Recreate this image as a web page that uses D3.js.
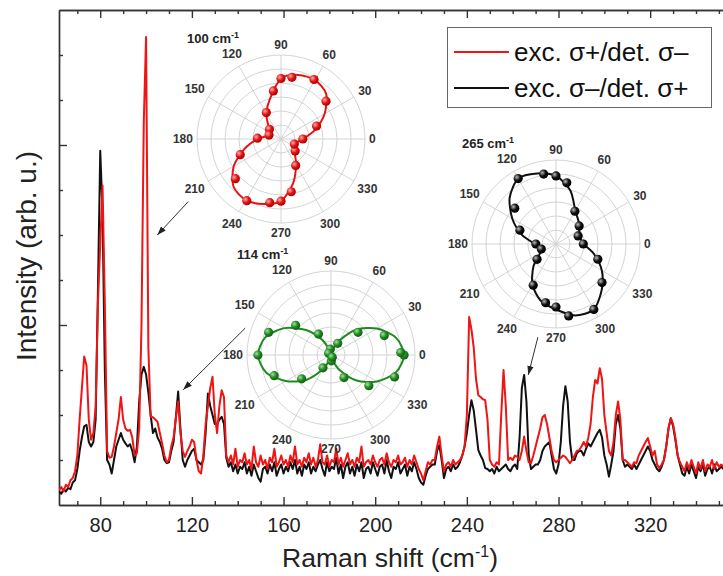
<!DOCTYPE html>
<html>
<head>
<meta charset="utf-8">
<style>
body { margin: 0; background: #fff; }
svg text { font-family: "Liberation Sans", Arial, sans-serif; }
.axis path, .axis line { stroke: #333; stroke-width: 1.4; }
.axis text { font-size: 20px; fill: #222; }
.grid { stroke: #cfcfcf; stroke-width: 0.9; fill: none; }
.plab { font-size: 12px; font-weight: bold; fill: #333; }
.ptitle { font-size: 13px; font-weight: bold; fill: #222; }
.arrow { stroke: #333; stroke-width: 1; }
</style>
</head>
<body>
<svg id="chart" width="723" height="576"></svg>
<script src="https://d3js.org/d3.v7.min.js"></script>
<script>
// Raman shift grid (cm-1), one sample per wavenumber
let shift = d3.range(62, 353);
// exc. s+/det. s- (red)
let red = [
  0.33, 0.40, 0.30, 0.45, 0.40, 0.55, 0.60, 0.75, 1.10, 1.90,
  2.60, 3.30, 3.10, 1.90, 1.45, 1.60, 2.20, 4.50, 5.80, 7.10,
  4.50, 1.20, 1.05, 1.07, 1.30, 1.60, 1.90, 2.40, 1.90, 1.70,
  1.65, 1.67, 1.50, 1.10, 1.15, 1.70, 4.00, 8.50, 10.40, 3.50,
  1.96, 1.95, 1.90, 1.85, 1.60, 1.37, 1.10, 0.95, 1.00, 1.30,
  1.50, 1.93, 2.30, 1.60, 1.20, 1.07, 1.20, 1.30, 1.45, 1.40,
  1.00, 0.75, 0.70, 1.10, 1.80, 2.20, 2.60, 2.85, 2.00, 1.60,
  2.20, 2.55, 2.40, 1.10, 0.95, 1.10, 0.90, 1.25, 0.85, 1.00,
  0.95, 1.15, 0.90, 1.00, 0.80, 1.30, 0.95, 0.85, 1.10, 0.90,
  1.00, 0.80, 1.05, 0.95, 1.25, 0.85, 0.95, 1.10, 0.90, 1.00,
  0.85, 1.10, 0.95, 1.30, 0.90, 1.00, 0.85, 1.05, 0.95, 1.15,
  0.90, 1.05, 0.85, 1.00, 1.35, 0.95, 0.90, 1.10, 0.85, 1.00,
  0.95, 1.25, 0.90, 1.05, 0.85, 1.00, 1.15, 0.90, 1.00, 0.85,
  1.05, 0.95, 1.30, 0.85, 0.95, 1.00, 0.90, 1.10, 0.95, 0.85,
  1.00, 1.05, 0.90, 1.15, 0.95, 0.85, 1.00, 0.95, 1.10, 0.90,
  0.95, 1.05, 0.85, 1.00, 0.90, 1.10, 0.95, 0.80, 0.70, 0.55,
  0.75, 0.95, 0.90, 1.00, 1.00, 1.30, 1.52, 1.10, 0.74, 0.90,
  0.95, 0.85, 1.00, 0.90, 0.95, 1.00, 1.10, 1.30, 2.00, 4.18,
  3.90, 3.50, 2.80, 2.44, 2.40, 2.35, 2.33, 1.90, 1.00, 0.90,
  0.85, 0.95, 0.90, 2.00, 3.00, 2.20, 1.00, 1.05, 1.00, 1.10,
  1.07, 1.00, 1.20, 1.52, 1.20, 0.95, 0.93, 1.10, 1.30, 1.50,
  1.70, 1.95, 2.00, 1.80, 1.50, 1.20, 1.00, 0.95, 1.00, 1.05,
  1.10, 1.07, 1.00, 0.93, 1.00, 1.10, 1.20, 1.22, 1.30, 1.40,
  1.30, 1.50, 1.80, 2.40, 2.78, 2.70, 3.04, 2.80, 2.00, 1.60,
  1.20, 1.10, 1.40, 2.00, 2.30, 1.90, 1.00, 1.00, 0.95, 0.90,
  0.85, 0.95, 0.93, 1.10, 1.20, 1.30, 1.40, 1.49, 1.30, 1.10,
  1.20, 0.90, 0.82, 0.90, 1.00, 1.30, 1.70, 1.93, 1.80, 1.50,
  1.10, 0.95, 0.85, 0.75, 0.95, 0.80, 1.00, 0.85, 0.70, 0.95,
  0.80, 1.00, 0.75, 0.90, 0.85, 1.00, 0.80, 0.95, 0.85, 0.90,
  0.85
];
// exc. s-/det. s+ (black)
let black = [
  0.30, 0.25, 0.35, 0.30, 0.38, 0.35, 0.50, 0.55, 0.80, 1.20,
  1.50, 1.75, 1.78, 1.40, 1.30, 1.40, 1.90, 4.80, 7.87, 6.50,
  3.00, 1.00, 0.90, 0.70, 1.00, 1.30, 1.45, 1.60, 1.45, 1.37,
  1.30, 1.35, 1.20, 0.95, 1.30, 2.30, 2.90, 3.07, 2.90, 2.50,
  2.00, 1.60, 1.70, 1.50, 1.40, 1.25, 1.00, 0.93, 0.95, 1.20,
  1.40, 1.95, 2.52, 1.70, 1.00, 0.85, 1.00, 1.10, 1.20, 1.25,
  1.00, 0.95, 0.90, 1.00, 1.60, 2.48, 2.20, 2.00, 1.80, 1.80,
  1.90, 1.96, 1.80, 1.05, 0.85, 0.95, 0.75, 0.90, 0.70, 0.85,
  0.80, 0.95, 0.70, 0.85, 0.65, 0.90, 0.75, 0.60, 0.52, 0.80,
  0.85, 0.70, 0.90, 0.75, 0.95, 0.65, 0.80, 0.90, 0.70, 0.85,
  0.75, 0.95, 0.80, 1.00, 0.70, 0.85, 0.65, 0.90, 0.80, 0.95,
  0.70, 0.85, 0.75, 0.90, 1.00, 0.80, 0.65, 0.95, 0.75, 0.85,
  0.80, 1.05, 0.70, 0.90, 0.60, 0.85, 0.95, 0.70, 0.85, 0.65,
  0.90, 0.75, 0.95, 0.60, 0.80, 0.85, 0.70, 0.95, 0.80, 0.65,
  0.85, 0.90, 0.70, 1.00, 0.75, 0.60, 0.85, 0.80, 0.95, 0.70,
  0.80, 0.90, 0.65, 0.85, 0.75, 0.95, 0.80, 0.60, 0.50, 0.45,
  0.65, 0.80, 0.85, 0.90, 0.90, 1.20, 1.33, 1.00, 0.60, 0.80,
  0.85, 0.75, 0.90, 0.80, 0.85, 0.95, 1.10, 1.30, 1.60, 2.00,
  2.33, 2.10, 1.67, 1.22, 1.10, 1.00, 0.82, 0.80, 0.75, 0.80,
  0.70, 0.85, 0.75, 0.80, 0.85, 0.90, 0.80, 0.75, 0.85, 0.90,
  0.80, 1.50, 2.60, 2.89, 2.30, 1.10, 0.80, 0.85, 0.90, 0.90,
  1.00, 1.20, 1.30, 1.35, 1.40, 1.10, 0.80, 0.70, 0.90, 1.40,
  2.20, 2.64, 2.30, 1.40, 1.00, 1.00, 1.15, 1.20, 1.20, 1.10,
  1.25, 1.37, 1.30, 1.40, 1.50, 1.60, 1.67, 1.50, 1.10, 0.90,
  0.63, 0.90, 1.20, 1.80, 2.00, 1.70, 1.00, 0.85, 0.90, 0.85,
  0.80, 0.90, 0.80, 0.90, 1.00, 1.10, 1.20, 1.30, 1.20, 1.00,
  0.90, 0.80, 0.75, 0.85, 1.00, 1.30, 1.70, 1.93, 1.75, 1.45,
  1.10, 0.90, 0.70, 0.65, 0.85, 0.70, 0.90, 0.75, 0.60, 0.85,
  0.75, 0.90, 0.65, 0.80, 0.85, 0.70, 0.90, 0.75, 0.80, 0.85,
  0.80
];
let xMajor = [80, 120, 160, 200, 240, 280, 320];
let xMinor = [70, 90, 100, 110, 130, 140, 150, 170, 180, 190, 210, 220, 230, 250, 260, 270, 290, 300, 310, 330, 340, 350];
let yMajor = [4, 8];
let yMinor = [1, 2, 3, 5, 6, 7, 9, 10];
let seriesNames = ["exc. \u03c3+/det. \u03c3\u2013", "exc. \u03c3\u2013/det. \u03c3+"];

// polar insets: measured points (angle deg, relative intensity) and fitted curve every 15 deg
let fitAngles = d3.range(0, 360, 15);
let polarTicks = d3.range(0, 360, 30);
let p100Angle = [0, 20, 40, 61, 80, 90, 99, 119, 140, 162, 178, 201, 221, 241, 260, 270, 281, 299, 320, 339];
let p100R = [0.26, 0.45, 0.70, 0.81, 0.745, 0.72, 0.58, 0.36, 0.18, 0.15, 0.28, 0.52, 0.72, 0.84, 0.77, 0.74, 0.64, 0.36, 0.22, 0.17];
let fit100 = [0.26, 0.42, 0.60, 0.76, 0.81, 0.79, 0.72, 0.50, 0.35, 0.21, 0.16, 0.16, 0.28, 0.45, 0.65, 0.80, 0.84, 0.80, 0.74, 0.55, 0.36, 0.23, 0.18, 0.18];
let p114Angle = [0, 2, 20, 40, 60, 97, 121, 140, 144, 160, 180, 200, 219, 238, 273, 300, 301, 321, 341];
let p114R = [0.87, 0.83, 0.675, 0.42, 0.16, 0.07, 0.29, 0.55, 0.035, 0.79, 0.87, 0.72, 0.45, 0.18, 0.07, 0.31, 0.03, 0.58, 0.80];
let fit114 = [0.87, 0.80, 0.63, 0.43, 0.20, 0.06, 0.01, 0.06, 0.21, 0.42, 0.64, 0.81, 0.87, 0.80, 0.62, 0.42, 0.20, 0.06, 0.01, 0.06, 0.21, 0.43, 0.63, 0.80];
let p265Angle = [0, 20, 38, 60, 80, 90, 100, 120, 139, 159, 180, 199, 219, 241, 260, 270, 280, 300, 320, 340];
let p265R = [0.325, 0.28, 0.35, 0.45, 0.74, 0.81, 0.845, 0.90, 0.65, 0.46, 0.24, 0.185, 0.29, 0.56, 0.71, 0.75, 0.87, 0.90, 0.715, 0.53];
let fit265 = [0.33, 0.30, 0.32, 0.38, 0.46, 0.66, 0.81, 0.87, 0.90, 0.78, 0.60, 0.42, 0.25, 0.19, 0.22, 0.38, 0.56, 0.70, 0.78, 0.88, 0.90, 0.77, 0.63, 0.47];

let svg = d3.select("#chart");
let W = 723, H = 576;
let margin = {top: 10, left: 59, bottom: 505};

let x = d3.scaleLinear().domain([62, 352]).range([margin.left, 723.5]);
let y = d3.scaleLinear().domain([0, 11]).range([margin.bottom, margin.top]);

svg.append("defs").append("clipPath").attr("id", "plotclip")
  .append("rect").attr("x", margin.left).attr("y", margin.top)
  .attr("width", W - margin.left).attr("height", margin.bottom - margin.top);

// frame + ticks
function addAxis(axis, tf, cls) {
  return svg.append("g").attr("class", "axis " + cls).attr("transform", tf).call(axis);
}
addAxis(d3.axisBottom(x).tickValues(xMajor).tickSize(-8).tickSizeOuter(0).tickPadding(13).tickFormat(d3.format("d")),
  "translate(0," + margin.bottom + ")", "x-major");
addAxis(d3.axisBottom(x).tickValues(xMinor).tickSize(-4).tickSizeOuter(0).tickFormat(""),
  "translate(0," + margin.bottom + ")", "x-minor");
addAxis(d3.axisTop(x).tickValues(xMajor).tickSize(-8).tickSizeOuter(0).tickFormat(""),
  "translate(0," + margin.top + ")", "x-top");
addAxis(d3.axisTop(x).tickValues(xMinor).tickSize(-4).tickSizeOuter(0).tickFormat(""),
  "translate(0," + margin.top + ")", "x-top-minor");
addAxis(d3.axisLeft(y).tickValues(yMajor).tickSize(-8).tickSizeOuter(0).tickFormat(""),
  "translate(" + margin.left + ",0)", "y-major");
addAxis(d3.axisLeft(y).tickValues(yMinor).tickSize(-4).tickSizeOuter(0).tickFormat(""),
  "translate(" + margin.left + ",0)", "y-minor");

// axis titles
let xt = svg.append("text").attr("x", 390).attr("y", 567).attr("text-anchor", "middle")
  .style("font-size", "26.5px").attr("fill", "#222").text("Raman shift (cm");
xt.append("tspan").attr("dy", -10).style("font-size", "16px").text("-1");
xt.append("tspan").attr("dy", 10).text(")");
svg.append("text").attr("transform", "translate(36,256) rotate(-90)").attr("text-anchor", "middle")
  .style("font-size", "28px").attr("fill", "#222").text("Intensity (arb. u.)");

// spectra
let line = d3.line().x((d, i) => x(shift[i])).y(d => y(d));
let plot = svg.append("g").attr("clip-path", "url(#plotclip)");
plot.append("path").datum(black).attr("d", line)
  .attr("fill", "none").attr("stroke", "#111").attr("stroke-width", 2).attr("stroke-linejoin", "round");
plot.append("path").datum(red).attr("d", line)
  .attr("fill", "none").attr("stroke", "#f01414").attr("stroke-width", 2).attr("stroke-linejoin", "round");

// legend
let lg = svg.append("g");
lg.append("rect").attr("x", 447.5).attr("y", 27.5).attr("width", 264).attr("height", 80)
  .attr("fill", "#fff").attr("stroke", "#666").attr("stroke-width", 1);
[["#f01414", seriesNames[0]], ["#111", seriesNames[1]]].forEach(function(s, i) {
  let yy = 52 + i * 36;
  lg.append("line").attr("x1", 454).attr("x2", 509).attr("y1", yy).attr("y2", yy)
    .attr("stroke", s[0]).attr("stroke-width", 2);
  lg.append("text").attr("x", 514).attr("y", yy + 9).style("font-size", "26px").attr("fill", "#111").text(s[1]);
});

// polar insets
let R = 84;
let rr = d3.scaleLinear().domain([0, 1]).range([0, R]);
let defs = svg.select("defs");
let insets = [
  {title: "100", cx: 281, cy: 139, a: p100Angle, r: p100R, fit: fit100, color: "#e41414", hi: "#ffb0b0", dark: "#b00000"},
  {title: "114", cx: 331, cy: 355, a: p114Angle, r: p114R, fit: fit114, color: "#1f8a1f", hi: "#a8e0a8", dark: "#136313"},
  {title: "265", cx: 556, cy: 244, a: p265Angle, r: p265R, fit: fit265, color: "#111", hi: "#bbbbbb", dark: "#000"}
];
function pol(a, r) {
  let t = a * Math.PI / 180;
  return [r * Math.cos(t), -r * Math.sin(t)];
}
insets.forEach(function(s, k) {
  let gid = "ball" + k;
  let grad = defs.append("radialGradient").attr("id", gid).attr("cx", "35%").attr("cy", "35%").attr("r", "65%");
  grad.append("stop").attr("offset", "0%").attr("stop-color", s.hi);
  grad.append("stop").attr("offset", "55%").attr("stop-color", s.color);
  grad.append("stop").attr("offset", "100%").attr("stop-color", s.dark);

  let g = svg.append("g").attr("transform", "translate(" + s.cx + "," + s.cy + ")");
  g.selectAll("circle.ring").data(d3.range(1, 7)).join("circle").attr("class", "grid")
    .attr("r", d => rr(d / 6));
  g.selectAll("line.spoke").data(polarTicks).join("line").attr("class", "grid")
    .attr("x1", 0).attr("y1", 0)
    .attr("x2", d => pol(d, R)[0]).attr("y2", d => pol(d, R)[1]);
  g.selectAll("text.plab").data(polarTicks).join("text").attr("class", "plab")
    .attr("text-anchor", "middle").attr("dominant-baseline", "central")
    .each(function(d) {
      let t = d * Math.PI / 180;
      let w = String(d).length * 6.7;
      let off = R + 4 + (w / 2) * Math.abs(Math.cos(t)) + 6 * Math.abs(Math.sin(t));
      let p = pol(d, off);
      d3.select(this).attr("x", p[0]).attr("y", p[1]);
    })
    .text(d => d);
  let fitLine = d3.lineRadial()
    .angle((d, i) => (90 - fitAngles[i]) * Math.PI / 180)
    .radius(d => rr(d))
    .curve(d3.curveCardinalClosed.tension(0.2));
  g.append("path").datum(s.fit).attr("d", fitLine)
    .attr("fill", "none").attr("stroke", s.color).attr("stroke-width", 2);
  g.selectAll("circle.pt").data(s.r).join("circle").attr("class", "pt")
    .attr("cx", (d, i) => pol(s.a[i], rr(d))[0])
    .attr("cy", (d, i) => pol(s.a[i], rr(d))[1])
    .attr("r", 4.6).attr("fill", "url(#" + gid + ")");
  let tt = g.append("text").attr("class", "ptitle").attr("x", -94).attr("y", -96).text(s.title + " cm");
  tt.append("tspan").attr("dy", -5).style("font-size", "9px").text("-1");
});

// arrows from insets to the peaks (tip in data units, start relative to inset)
let arrowTips = [[104.9, 6.0], [116.2, 2.56], [266.8, 2.89]];
let arrowStarts = [[214, 1.33], [162.6, 1.07], [259, 1.13]];
defs.append("marker").attr("id", "head").attr("viewBox", "0 0 10 10").attr("refX", 10).attr("refY", 5)
  .attr("markerWidth", 9).attr("markerHeight", 9).attr("markerUnits", "userSpaceOnUse").attr("orient", "auto")
  .append("path").attr("d", "M0,1.5L10,5L0,8.5z").attr("fill", "#222");
arrowTips.forEach(function(t, i) {
  let s = insets[i];
  let p = pol(arrowStarts[i][0], rr(arrowStarts[i][1]));
  svg.append("line").attr("class", "arrow")
    .attr("x1", s.cx + p[0]).attr("y1", s.cy + p[1])
    .attr("x2", x(t[0])).attr("y2", y(t[1]))
    .attr("marker-end", "url(#head)");
});
</script>
</body>
</html>
